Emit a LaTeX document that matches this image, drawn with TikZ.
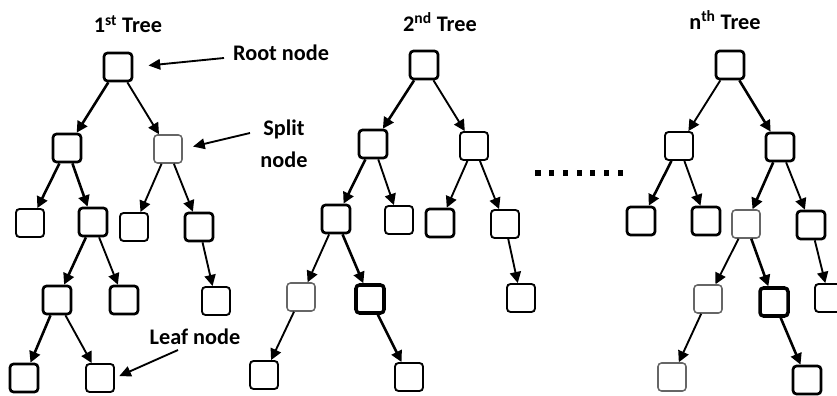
\documentclass[tikz,border=0pt]{standalone}
\usepackage{fontspec}
\setmainfont{Carlito}
\usetikzlibrary{arrows.meta}

\begin{document}
\begin{tikzpicture}[x=0.03cm, y=-0.03cm,
  every node/.style={font=\fontsize{19}{22}\selectfont\bfseries},
  tbox/.style={draw, line width=1.6pt, rounded corners=3pt, minimum size=0.84cm, inner sep=0pt},
  boldbox/.style={tbox, line width=2.3pt},
  faintbox/.style={tbox, draw=black!60, line width=1.3pt},
  edge/.style={-{Triangle[length=9.5pt, width=9.5pt]}, line width=1.6pt},
  boldedge/.style={edge, line width=2.2pt},
  lblarrow/.style={-{Triangle[length=10pt, width=9pt]}, line width=1.6pt}
]
\useasboundingbox (0,0) rectangle (837,396);

% titles
\node (title1) at (128,24) {1\textsuperscript{st} Tree};
\node (title2) at (440,22) {2\textsuperscript{nd} Tree};
\node (titlen) at (725,20) {n\textsuperscript{th} Tree};

% 1st tree
\node[boldbox]  (t1)     at (118,67)  {};
\node[boldbox]  (t1l)    at (67,148)  {};
\node[faintbox] (t1r)    at (168,149) {};
\node[tbox]     (t1ll)   at (30,223)  {};
\node[boldbox]  (t1lr)   at (93,222)  {};
\node[tbox]     (t1rl)   at (134,227) {};
\node[boldbox]  (t1rr)   at (199,227) {};
\node[boldbox]  (t1lrl)  at (57,300)  {};
\node[boldbox]  (t1lrr)  at (124,300) {};
\node[tbox]     (t1rrx)  at (216,301) {};
\node[boldbox]  (t1lrll) at (24,378)  {};
\node[tbox]     (t1lrlr) at (100,378) {};

\draw[boldedge] (t1) -- (t1l);
\draw[edge] (t1) -- (t1r);
\draw[boldedge] (t1l) -- (t1ll);
\draw[boldedge] (t1l) -- (t1lr);
\draw[edge] (t1r) -- (t1rl);
\draw[edge] (t1r) -- (t1rr);
\draw[boldedge] (t1lr) -- (t1lrl);
\draw[edge] (t1lr) -- (t1lrr);
\draw[edge] (t1rr) -- (t1rrx);
\draw[boldedge] (t1lrl) -- (t1lrll);
\draw[edge] (t1lrl) -- (t1lrlr);

% labels of the 1st tree
\node[anchor=west] (rootlbl) at (229,53) {Root node};
\node[align=center] (splitlbl) at (284,144) {Split\\[5pt]node};
\node (leaflbl) at (195,337) {Leaf node};
\coordinate (roottail) at (224,58);
\coordinate (splittail) at (250,133);
\coordinate (leaftail) at (178,350);
\draw[lblarrow, shorten >=13pt] (roottail) -- (t1.east);
\draw[lblarrow, shorten >=9pt] (splittail) -- (t1r.east);
\draw[lblarrow, shorten >=4pt] (leaftail) -- (t1lrlr.east);

% 2nd tree
\node[boldbox]  (t2)     at (424,65)  {};
\node[boldbox]  (t2l)    at (373,144) {};
\node[tbox]     (t2r)    at (474,146) {};
\node[boldbox]  (t2ll)   at (336,219) {};
\node[tbox]     (t2lr)   at (399,220) {};
\node[boldbox]  (t2rl)   at (440,223) {};
\node[tbox]     (t2rr)   at (505,224) {};
\node[faintbox] (t2lll)  at (301,297) {};
\node[boldbox, line width=3pt] (t2llr) at (370,299) {};
\node[tbox]     (t2rrx)  at (521,298) {};
\node[tbox]     (t2llll) at (264,375) {};
\node[tbox]     (t2llrr) at (409,377) {};

\draw[boldedge] (t2) -- (t2l);
\draw[edge] (t2) -- (t2r);
\draw[boldedge] (t2l) -- (t2ll);
\draw[edge] (t2l) -- (t2lr);
\draw[edge] (t2r) -- (t2rl);
\draw[edge] (t2r) -- (t2rr);
\draw[edge] (t2ll) -- (t2lll);
\draw[boldedge] (t2ll) -- (t2llr);
\draw[edge] (t2rr) -- (t2rrx);
\draw[edge] (t2lll) -- (t2llll);
\draw[boldedge] (t2llr) -- (t2llrr);

% dots between the trees
\foreach \i in {0,...,6}
  \fill (538+13.7*\i,173) ++(-2.6,-2.6) rectangle ++(5.2,5.2);

% n-th tree
\node[boldbox]  (tn)     at (730,65)  {};
\node[tbox]     (tnl)    at (679,146) {};
\node[boldbox]  (tnr)    at (780,147) {};
\node[boldbox]  (tnll)   at (641,221) {};
\node[boldbox]  (tnlr)   at (706,221) {};
\node[faintbox] (tnrl)   at (746,224) {};
\node[boldbox]  (tnrr)   at (811,225) {};
\node[faintbox] (tnrll)  at (708,299) {};
\node[boldbox, line width=3pt] (tnrlr) at (774,302) {};
\node[tbox]     (tnrrx)  at (829,298) {};
\node[faintbox] (tnrlll) at (672,377) {};
\node[boldbox]  (tnrlrr) at (807,380) {};

\draw[edge] (tn) -- (tnl);
\draw[boldedge] (tn) -- (tnr);
\draw[boldedge] (tnl) -- (tnll);
\draw[edge] (tnl) -- (tnlr);
\draw[boldedge] (tnr) -- (tnrl);
\draw[edge] (tnr) -- (tnrr);
\draw[edge] (tnrl) -- (tnrll);
\draw[boldedge] (tnrl) -- (tnrlr);
\draw[edge] (tnrr) -- (tnrrx);
\draw[edge] (tnrll) -- (tnrlll);
\draw[boldedge] (tnrlr) -- (tnrlrr);
\end{tikzpicture}
\end{document}
